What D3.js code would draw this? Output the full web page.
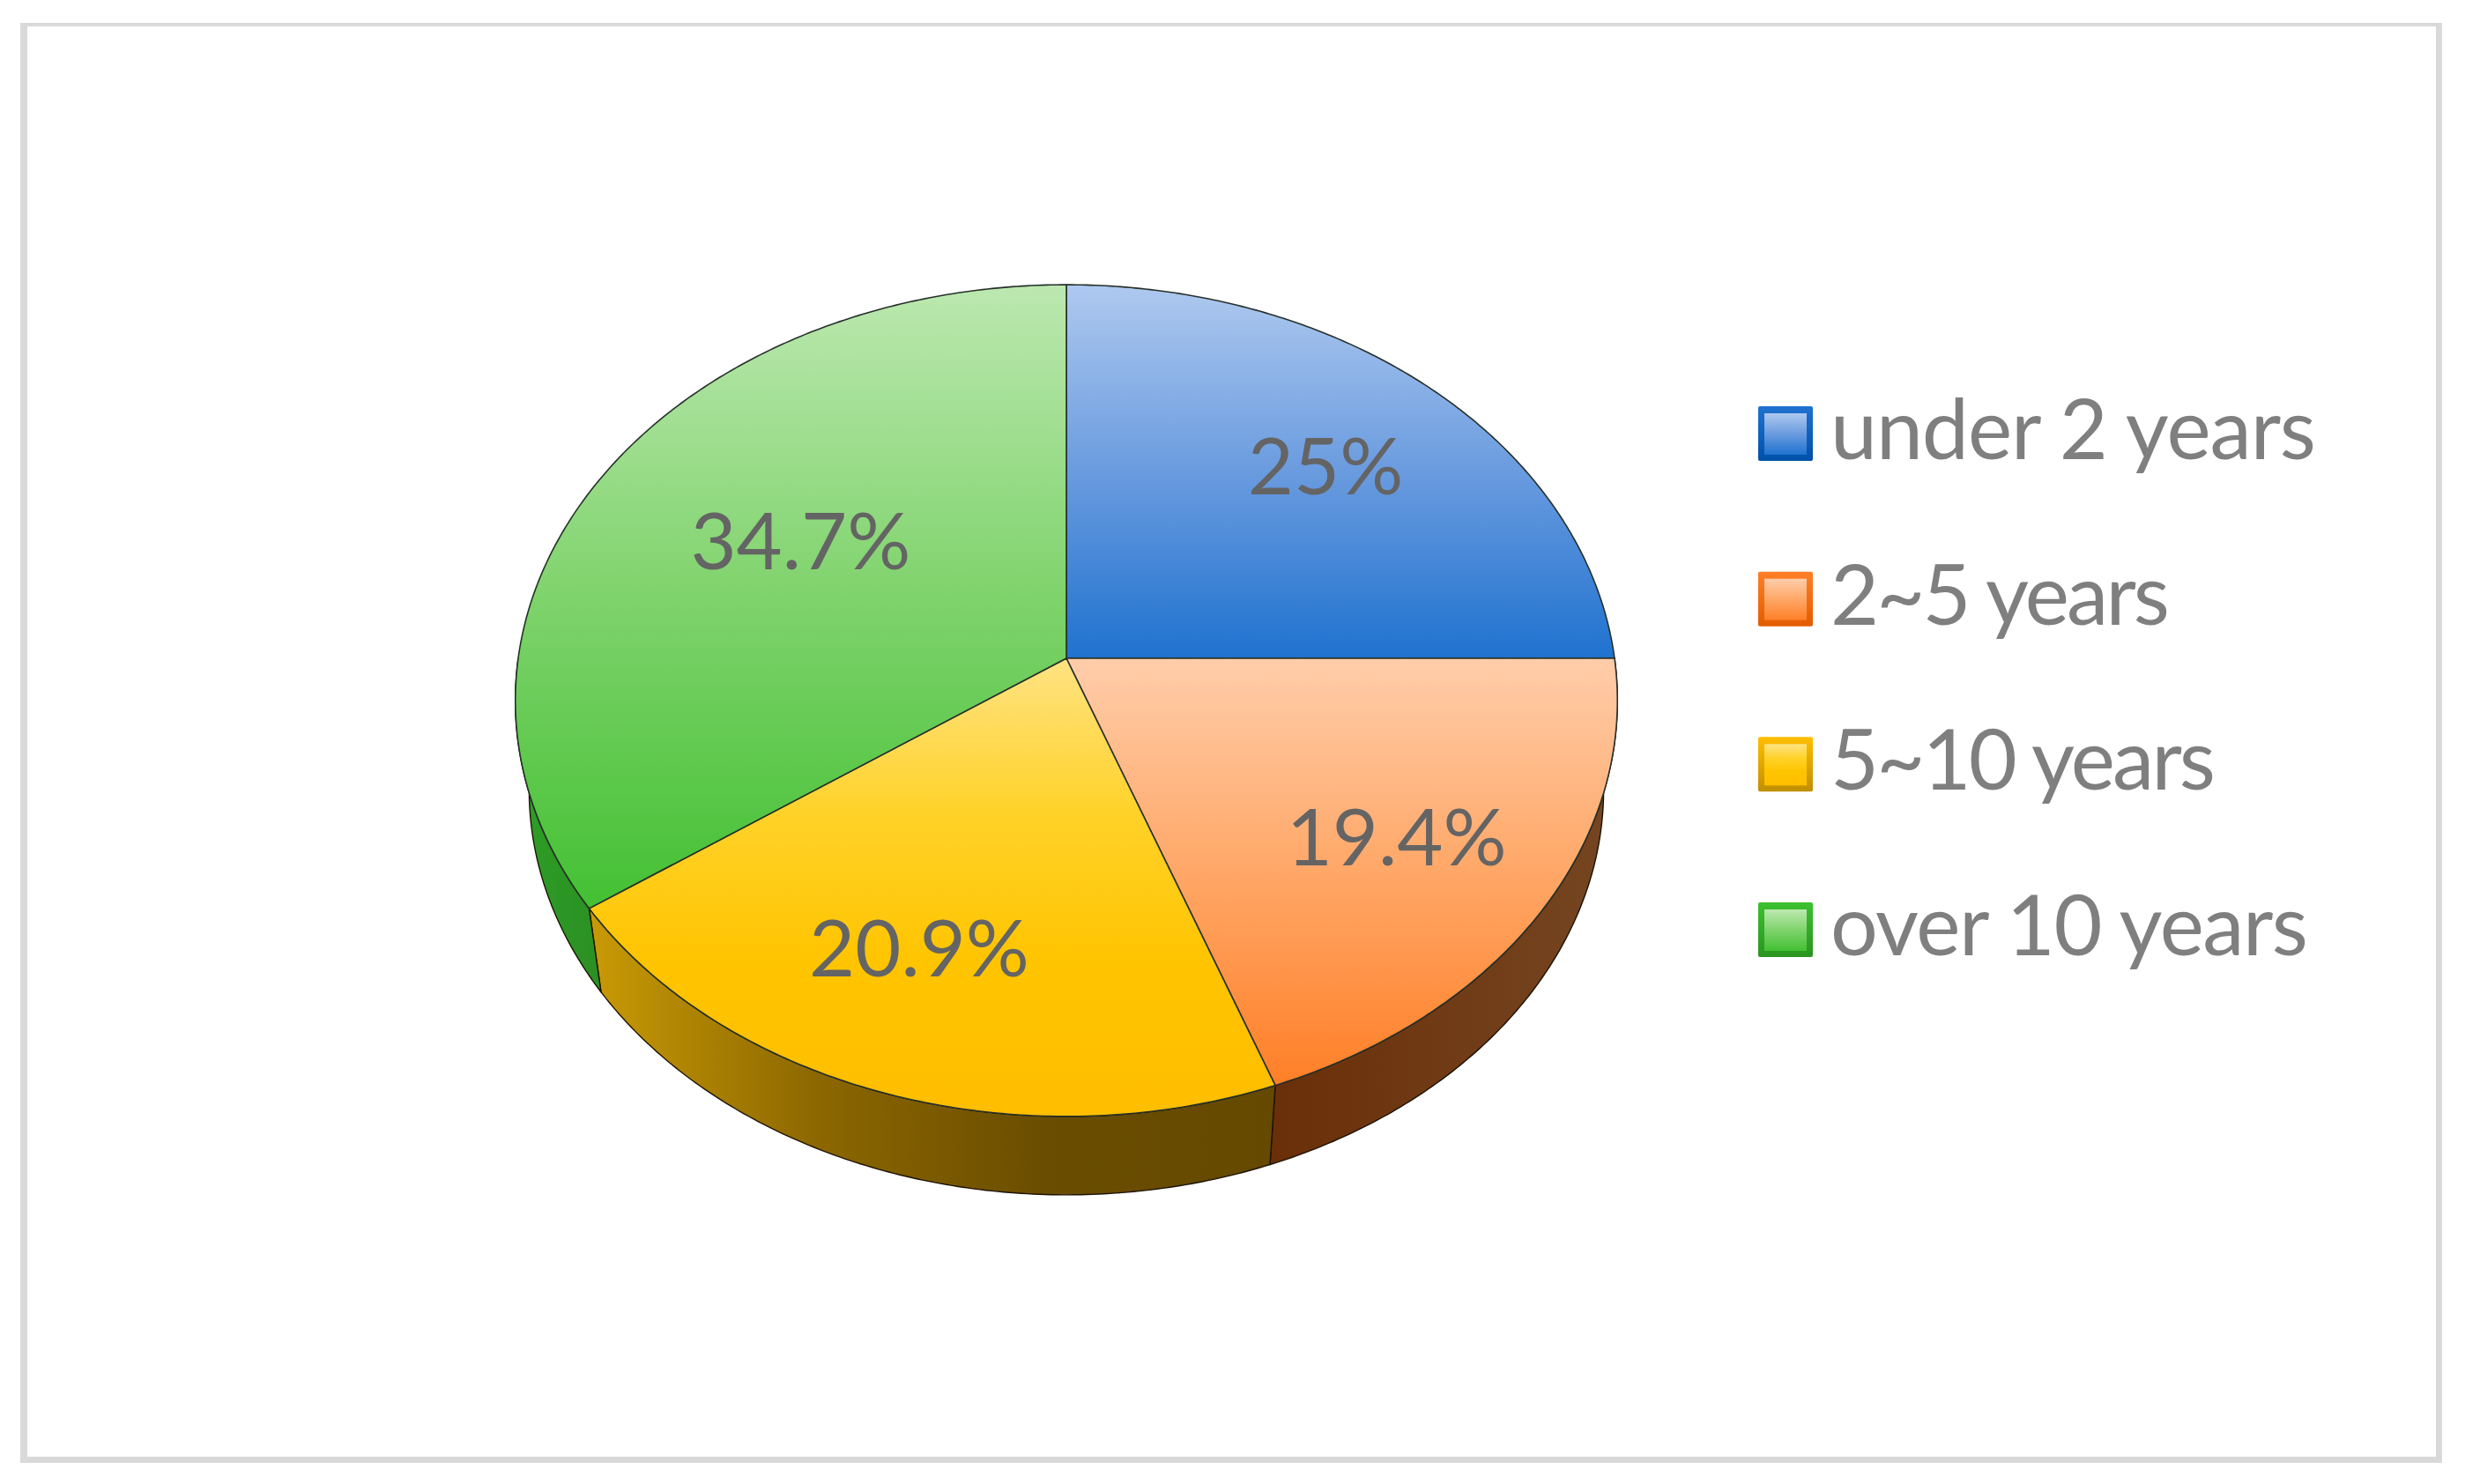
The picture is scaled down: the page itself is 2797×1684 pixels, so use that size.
<!DOCTYPE html>
<html>
<head>
<meta charset="utf-8">
<script src="https://cdn.jsdelivr.net/npm/d3@7"></script>
<style>
  html, body { margin: 0; padding: 0; background: #fff; }
  svg { display: block; }
  text { font-family: Lato, "Open Sans", sans-serif; }
</style>
</head>
<body>
<div id="container"></div>
<script>
// Chart values
const categories = ["under 2 years", "2~5 years", "5~10 years", "over 10 years"];
const shares = [25, 19.4, 20.9, 34.7];
const shareLabels = ["25%", "19.4%", "20.9%", "34.7%"];

// Declare the chart dimensions
const width = 2797;
const height = 1684;

// Pie placement: apex of the slices and the perspective of the disc
const apexX = 1210;
const apexY = 747;
const radiusX = 622;
const radiusY = 467;
const tilt = -0.1017;
const wallScale = 0.975;
const wallDrop = 102;

// Colours per slice: light, middle, dark for the top face
const faceColors = [
  ["#aec9ef", "#6a9bdf", "#1f72cf"],
  ["#ffcdaa", "#ffa767", "#ff7f27"],
  ["#ffe383", "#ffd22a", "#ffc400", "#ffbe00"],
  ["#bce8b0", "#7fd36c", "#43c033"]
];
const wallColors = [
  ["#1a4f90", "#1a4f90"],
  ["#6a2f08", "#754622"],
  ["#c99a06", "#8c6700", "#6a4d00", "#654900"],
  ["#2f9f27", "#2a8f22"]
];
const swatchBorders = [
  ["#1f72cf", "#0050a8"],
  ["#ff7f27", "#e25c00"],
  ["#ffbe00", "#bf8f00"],
  ["#3cc030", "#2a9420"]
];

// Small shifts of the value labels from the slice middle
const labelShiftX = [5, 8, -29, 67];
const labelShiftY = [0, 11, 0, 12];

// Legend text is fitted to these widths, the fallback font runs a bit wide
const legendTextWidths = [551, 385, 437, 542];

const svg = d3.select("#container").append("svg")
    .attr("width", width)
    .attr("height", height)
    .attr("viewBox", [0, 0, width, height]);

const defs = svg.append("defs");

function addGradient(id, colors, horizontal) {
  const grad = defs.append("linearGradient")
      .attr("id", id)
      .attr("x1", 0).attr("y1", 0)
      .attr("x2", horizontal ? 1 : 0).attr("y2", horizontal ? 0 : 1);
  colors.forEach((c, i) => {
    grad.append("stop")
        .attr("offset", i / (colors.length - 1))
        .attr("stop-color", c);
  });
}

categories.forEach((c, i) => {
  addGradient(`face${i}`, faceColors[i], false);
  addGradient(`wall${i}`, wallColors[i], true);
  addGradient(`border${i}`, swatchBorders[i], false);
  addGradient(`swatch${i}`, faceColors[i], false);
});

// Outer frame, thicker on the sides
svg.append("path")
    .attr("fill", "#d9d9d9")
    .attr("fill-rule", "evenodd")
    .attr("d", "M23,26H2771V1660H23Z M31,30V1653H2764V30Z");

// Project a point of the unit disc (angle clockwise from top, r 0..1) to the page
function project(angle, r) {
  const u = r * Math.sin(angle);
  const v = -r * Math.cos(angle);
  const w = 1 + tilt * v;
  return [radiusX * u / w, radiusY * v / w];
}

function rim(a0, a1) {
  const n = Math.max(2, Math.ceil((a1 - a0) / 0.01));
  return d3.range(n + 1).map(i => a0 + (a1 - a0) * i / n);
}

const line = d3.line();

const arcs = d3.pie().sort(null).value(d => d)(shares);

const pie = svg.append("g")
    .attr("transform", `translate(${apexX},${apexY})`);

// Side walls, only the front half of the disc
arcs.forEach((d, i) => {
  const a0 = Math.max(d.startAngle, Math.PI / 2);
  const a1 = Math.min(d.endAngle, Math.PI * 1.5);
  if (a1 <= a0) return;
  const top = rim(a0, a1).map(a => project(a, 1));
  const bottom = rim(a0, a1).reverse().map(a => {
    const p = project(a, 1);
    return [p[0] * wallScale, p[1] * wallScale + wallDrop];
  });
  pie.append("path")
      .attr("d", line(top.concat(bottom)) + "Z")
      .attr("fill", `url(#wall${i})`)
      .attr("stroke", "#1c1204")
      .attr("stroke-width", 1.4)
      .attr("stroke-linejoin", "round");
});

// Top faces
arcs.forEach((d, i) => {
  const pts = [[0, 0]].concat(rim(d.startAngle, d.endAngle).map(a => project(a, 1)));
  pie.append("path")
      .attr("d", line(pts) + "Z")
      .attr("fill", `url(#face${i})`)
      .attr("stroke", "#26302a")
      .attr("stroke-width", 1.6)
      .attr("stroke-linejoin", "round");
});

// Value labels
arcs.forEach((d, i) => {
  const p = project((d.startAngle + d.endAngle) / 2, 0.69);
  pie.append("text")
      .attr("x", p[0] + labelShiftX[i])
      .attr("y", p[1] + labelShiftY[i])
      .attr("dy", "0.35em")
      .attr("text-anchor", "middle")
      .attr("fill", "#646464")
      .style("font-size", "90px")
      .text(shareLabels[i]);
});

// Legend
const legendY = d3.scalePoint()
    .domain(categories)
    .range([521, 1084]);

const legend = svg.append("g");

categories.forEach((c, i) => {
  const y = legendY(c);
  legend.append("rect")
      .attr("x", 1995)
      .attr("y", y - 60)
      .attr("width", 62)
      .attr("height", 62)
      .attr("rx", 2)
      .attr("fill", `url(#border${i})`);
  legend.append("rect")
      .attr("x", 2002)
      .attr("y", y - 52)
      .attr("width", 48)
      .attr("height", 47)
      .attr("fill", `url(#swatch${i})`);
  legend.append("text")
      .attr("x", 2077)
      .attr("y", y)
      .attr("fill", "#7f7f7f")
      .attr("textLength", legendTextWidths[i])
      .attr("lengthAdjust", "spacing")
      .style("font-size", "95px")
      .text(c);
});
</script>
</body>
</html>
